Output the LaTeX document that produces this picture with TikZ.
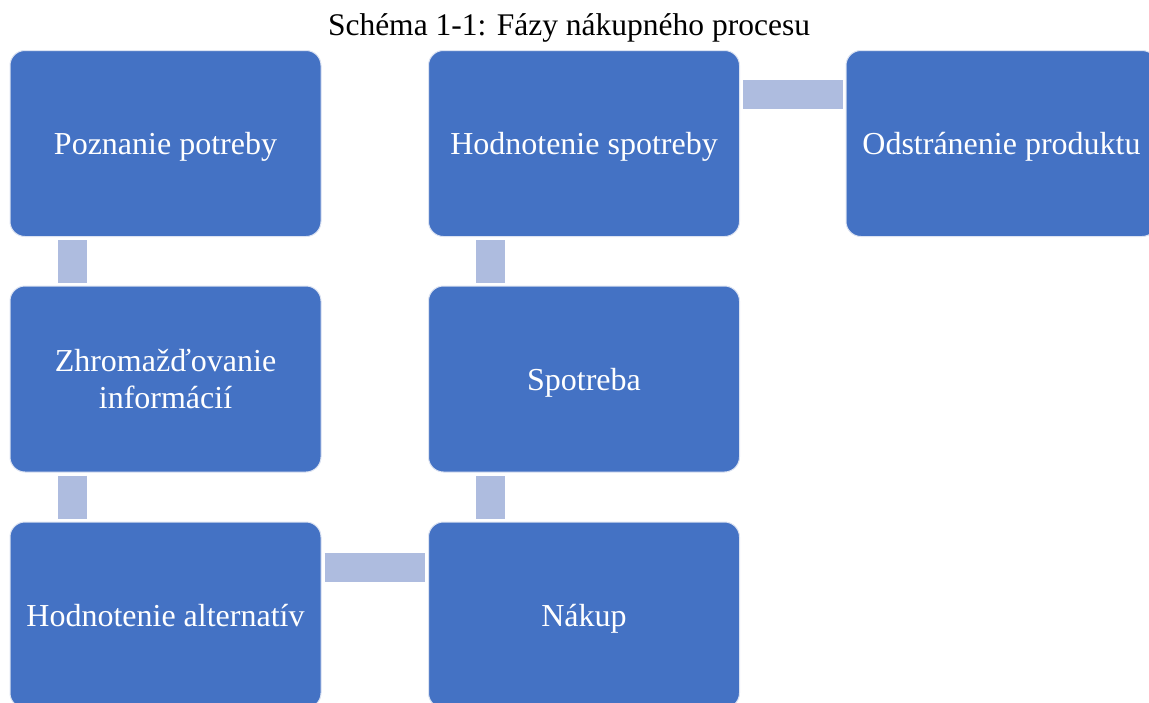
\documentclass[tikz,border=0pt]{standalone}
\usepackage{fontspec}
\setmainfont{Liberation Serif}
\definecolor{boxblue}{HTML}{4472C4}
\definecolor{connblue}{HTML}{AEBCDF}
\definecolor{edgeblue}{HTML}{DCE3F2}
\begin{document}
\begin{tikzpicture}[x=1pt,y=-1pt,
  stage/.style={draw=edgeblue, line width=1pt, fill=boxblue, rounded corners=15pt,
    minimum width=311pt, minimum height=186pt, inner sep=0pt, text depth=0pt,
    text=white, align=center, font=\fontsize{32}{37}\selectfont},
  conn/.style={draw=connblue, line width=29pt},
  title/.style={font=\fontsize{31.5}{36}\selectfont, text=black}]
\path[use as bounding box] (0,0) rectangle (1149,702);
\clip (0,0) rectangle (1149,702);
\node[title] (t) at (569,28) {Schéma 1-1: Fázy nákupného procesu};
\node[stage] (b1) at (165.5,143.5) {Poznanie potreby};
\node[stage] (b2) at (165.5,379) {Zhromažďovanie\\informácií};
\node[stage] (b3) at (165.5,615) {Hodnotenie alternatív};
\node[stage] (b4) at (584,615) {Nákup};
\node[stage] (b5) at (584,379) {Spotreba};
\node[stage] (b6) at (584,143.5) {Hodnotenie spotreby};
\node[stage] (b7) at (1001.5,143.5) {Odstránenie produktu};
\draw[conn] ([xshift=62.5pt,yshift=-3pt]b1.south west) -- ([xshift=62.5pt,yshift=3pt]b2.north west);
\draw[conn] ([xshift=62.5pt,yshift=-3pt]b2.south west) -- ([xshift=62.5pt,yshift=3pt]b3.north west);
\draw[conn] ([xshift=3pt,yshift=-45.5pt]b3.north east) -- ([xshift=-3pt,yshift=-45.5pt]b4.north west);
\draw[conn] ([xshift=62.5pt,yshift=3pt]b4.north west) -- ([xshift=62.5pt,yshift=-3pt]b5.south west);
\draw[conn] ([xshift=62.5pt,yshift=3pt]b5.north west) -- ([xshift=62.5pt,yshift=-3pt]b6.south west);
\draw[conn] ([xshift=3pt,yshift=-44.5pt]b6.north east) -- ([xshift=-3pt,yshift=-44.5pt]b7.north west);
\end{tikzpicture}
\end{document}
